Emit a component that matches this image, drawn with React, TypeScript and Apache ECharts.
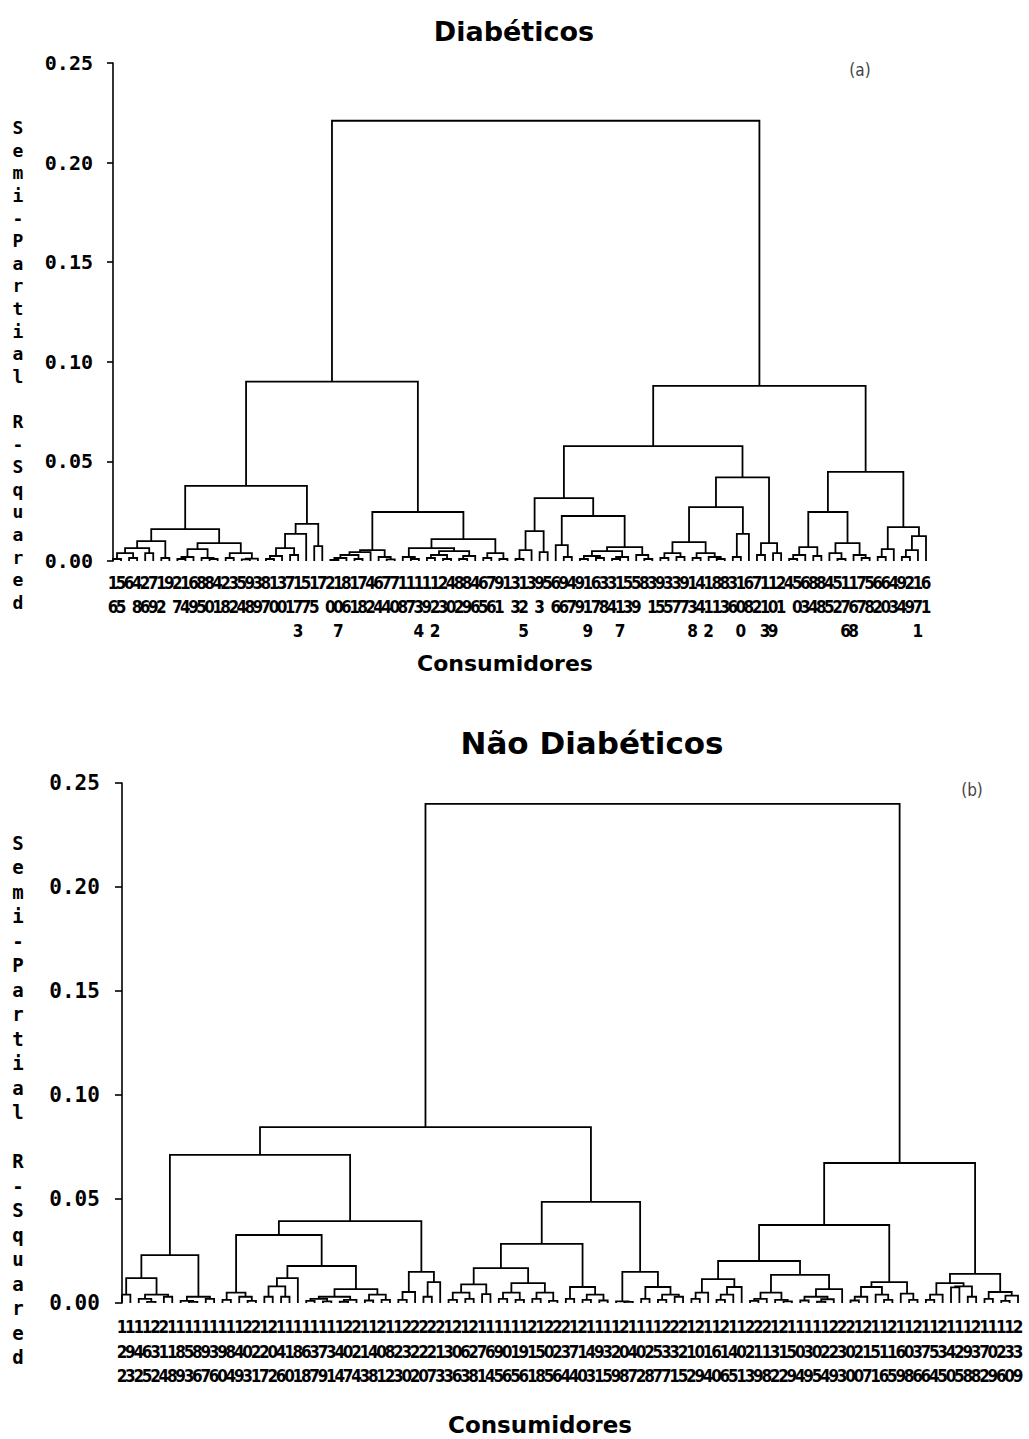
import React, { useEffect, useRef } from "react";
import * as echarts from "echarts";

type Node = null | [number, Node, Node];
const L = null;

// ---------- Panel (a): Diabéticos — merge heights (semi-partial R²) ----------
const a_A1aL: Node = [0.010, [0.0065, [0.004, [0.001, L, L], [0.0015, L, L]], [0.004, L, L]], [0.0015, L, L]];
const a_A1aR: Node = [0.009, [0.006, [0.002, [0.001, L, L], L], [0.0015, L, [0.001, L, L]]], [0.004, [0.0015, L, L], [0.0012, [0.0008, L, L], L]]];
const a_A1b: Node = [0.0186, [0.0136, [0.0065, [0.0025, [0.001, L, L], L], [0.003, L, L]], L], [0.0075, L, L]];
const a_A2a: Node = [0.0055, [0.0045, [0.003, [0.0015, [0.0005, L, L], L], [0.001, L, L]], L], [0.002, L, [0.0008, L, L]]];
const a_A2b: Node = [0.011, [0.0065, [0.002, L, [0.001, L, L]], [0.005, [0.003, [0.0015, L, L], [0.001, L, L]], [0.0025, [0.001, L, L], L]]], [0.004, [0.0015, L, L], [0.001, L, L]]];
const a_B1a: Node = [0.0316, [0.015, [0.0055, [0.001, L, L], L], [0.0045, L, L]], [0.0226, [0.008, L, [0.002, L, L]], [0.007, [0.005, [0.0025, [0.001, L, L], [0.0015, L, L]], [0.002, [0.001, L, L], L]], [0.003, L, [0.001, L, L]]]]];
const a_B1b: Node = [0.042, [0.027, [0.0095, [0.004, [0.0015, L, L], [0.002, L, L]], [0.004, [0.0015, L, L], [0.002, L, [0.001, L, L]]]], [0.0136, [0.002, L, L], L]], [0.009, [0.003, L, L], [0.004, L, L]]];
const a_B2: Node = [0.0447, [0.0246, [0.007, [0.003, [0.001, L, L], L], [0.0025, L, L]], [0.009, [0.004, L, [0.001, L, L]], [0.003, L, [0.0015, L, L]]]], [0.017, [0.006, [0.002, L, L], L], [0.0125, [0.0055, [0.002, L, L], L], L]]];
const treeA: Node = [0.221, [0.090, [0.0377, [0.016, a_A1aL, a_A1aR], a_A1b], [0.0246, a_A2a, a_A2b]], [0.0879, [0.0577, a_B1a, a_B1b], a_B2]];

const labelsA = [
  "16","55","6","48","26","79","12","9","27","14",
  "69","85","80","41","28","32","54","98","39","87",
  "10","30","71","173","57","15","7","20","107","86",
  "11","78","42","64","74","70","18","17","134","19",
  "122","23","40","82","89","46","65","76","91","1",
  "33","125","3","93","5","66","96","47","99","119",
  "67","38","34","117","53","59","8","31","95","35",
  "37","97","138","44","112","81","83","36","100","68",
  "72","113","109","21","4","50","63","84","88","45",
  "52","176","168","77","58","62","60","43","94","29",
  "171","61",
];

// ---------- Panel (b): Não Diabéticos ----------
const b_C1a: Node = [0.023,
  [0.012, [0.004, L, L], [0.004, [0.002, L, [0.0005, L, L]], [0.003, L, L]]],
  [0.003, [0.001, L, [0.0005, L, L]], [0.002, L, L]]];
const b_C1b: Node = [0.0394,
  [0.0327,
    [0.005, [0.0015, L, L], [0.003, L, [0.001, L, L]]],
    [0.0178,
      [0.012, [0.008, [0.003, L, L], [0.003, L, L]], L],
      [0.0067, [0.003, [0.002, [0.001, L, L], [0.0008, L, L]], [0.0015, [0.0006, L, L], L]], [0.004, [0.0012, L, L], [0.0015, L, L]]]]],
  [0.015, [0.0053, [0.0015, L, L], L], [0.010, [0.003, L, L], L]]];
const b_C2: Node = [0.0486,
  [0.0284,
    [0.0168,
      [0.009, [0.005, [0.0015, L, L], [0.002, L, L]], [0.0043, L, L]],
      [0.0096, [0.005, [0.002, L, L], [0.0015, L, L]], [0.005, [0.002, L, L], [0.001, L, L]]]],
    [0.0077, [0.002, L, L], [0.004, [0.0015, L, L], [0.0012, L, L]]]],
  [0.015, [0.0008, L, [0.0005, L, L]], [0.0077, [0.002, L, L], [0.004, [0.0015, L, L], [0.003, L, L]]]]];
const b_D1: Node = [0.0375,
  [0.0202,
    [0.0115, [0.005, [0.002, L, L], L], [0.0077, [0.004, [0.0015, L, L], L], L]],
    [0.0135, [0.005, [0.002, [0.001, L, L], L], [0.0015, L, [0.0008, L, L]]], [0.0067, [0.003, [0.0012, L, L], [0.0018, [0.0006, L, L], L]], L]]],
  [0.010, [0.0077, [0.003, [0.0012, L, L], L], [0.004, L, [0.0015, L, L]]], [0.0045, L, [0.0015, L, L]]]];
const b_D2: Node = [0.014,
  [0.0096, [0.004, [0.0015, L, L], L], [0.008, [0.0075, L, L], [0.003, L, L]]],
  [0.0053, [0.002, L, L], [0.0035, [0.001, L, L], L]]];
const treeB: Node = [0.240, [0.0846, [0.0712, b_C1a, b_C1b], b_C2], [0.0673, b_D1, b_D2]];

const labelsB = [
  "122","193","142","165","232","214","118","189","153","186",
  "197","136","190","184","149","203","221","127","202","146",
  "110","181","168","137","179","131","144","207","224","113",
  "148","201","182","123","230","222","220","227","213","133",
  "206","163","228","171","164","195","106","115","196","211",
  "158","205","226","234","174","210","143","191","135","129",
  "208","147","102","128","157","237","231","225","112","209",
  "114","160","216","145","101","223","219","218","132","212",
  "159","104","139","105","124","229","233","200","120","217",
  "151","116","215","169","108","236","176","154","235","140",
  "125","198","238","172","109","126","130","239",
];

const yTicks = [0, 0.05, 0.1, 0.15, 0.2, 0.25];
const yName = ["S","e","m","i","-","P","a","r","t","i","a","l"," ","R","-","S","q","u","a","r","e","d"];

function layout(tree: Node) {
  const segs: number[][] = [];
  let leaf = 0;
  const walk = (n: Node): [number, number] => {
    if (n === null) {
      const x = leaf++;
      return [x, 0];
    }
    const [h, a, b] = n;
    const A = walk(a);
    const B = walk(b);
    segs.push([A[0], B[0], h, A[1], B[1]]);
    return [(A[0] + B[0]) / 2, h];
  };
  walk(tree);
  return { segs, count: leaf };
}

const NARROW = "'Liberation Sans Narrow','DejaVu Sans Condensed','Arial Narrow',sans-serif";
const MONO = "'DejaVu Sans Mono','Liberation Mono',monospace";
const SANS = "'DejaVu Sans','Verdana',sans-serif";

function buildOption() {
  const la = layout(treeA);
  const lb = layout(treeB);
  const gridFor = (first: number, last: number, n: number, top: number, height: number) => {
    const s = (last - first) / (n - 1);
    return { left: first - s / 2, width: s * n, top, height };
  };
  const renderItem = (_p: any, api: any) => {
    const xl = api.value(0), xr = api.value(1), h = api.value(2), yl = api.value(3), yr = api.value(4);
    const pts = [api.coord([xl, yl]), api.coord([xl, h]), api.coord([xr, h]), api.coord([xr, yr])];
    return { type: "polyline", shape: { points: pts }, style: { stroke: "#000", lineWidth: 1.8, fill: null } };
  };
  const catAxis = (gi: number, data: string[], fontSize: number, lineHeight: number, margin: number) => ({
    type: "category",
    gridIndex: gi,
    data,
    axisLine: { show: false },
    axisTick: { show: false },
    axisLabel: {
      interval: 0,
      margin,
      color: "#000",
      fontFamily: NARROW,
      fontWeight: "bold",
      fontSize,
      lineHeight,
      formatter: (v: string) => v.split("").join("\n"),
    },
  });
  const yAx = (gi: number, fontSize: number, margin: number, tick: number) => ({
    type: "value",
    gridIndex: gi,
    min: yTicks[0],
    max: yTicks[yTicks.length - 1],
    interval: 0.05,
    axisLine: { show: true, lineStyle: { color: "#000", width: 1.6 } },
    axisTick: { show: true, length: tick, lineStyle: { color: "#000", width: 1.6 } },
    splitLine: { show: false },
    axisLabel: {
      margin,
      color: "#000",
      fontFamily: MONO,
      fontWeight: "bold",
      fontSize,
      formatter: (v: number) => v.toFixed(2),
    },
  });
  const txt = (text: string, x: number, y: number, font: string, fill = "#000", lineHeight?: number) => ({
    type: "text",
    x,
    y,
    silent: true,
    style: { text, font, fill, align: "center", verticalAlign: "middle", lineHeight },
  });
  return {
    animation: false,
    backgroundColor: "#fff",
    grid: [gridFor(113, 926, la.count, 63, 498), gridFor(122, 1018, lb.count, 783, 520)],
    xAxis: [
      catAxis(0, labelsA, 17, 24, 10),
      { type: "value", gridIndex: 0, min: -0.5, max: la.count - 0.5, show: false },
      catAxis(1, labelsB, 17, 24.5, 12),
      { type: "value", gridIndex: 1, min: -0.5, max: lb.count - 0.5, show: false },
    ],
    yAxis: [yAx(0, 20, 16, 6), yAx(1, 21, 18, 7)],
    series: [
      { type: "custom", xAxisIndex: 1, yAxisIndex: 0, data: la.segs, renderItem, encode: { x: [0, 1], y: [2, 3, 4] }, silent: true },
      { type: "custom", xAxisIndex: 3, yAxisIndex: 1, data: lb.segs, renderItem, encode: { x: [0, 1], y: [2, 3, 4] }, silent: true },
    ],
    graphic: [
      txt("Diabéticos", 514, 31, `bold 27px ${SANS}`),
      txt("(a)", 860, 70, `17px ${NARROW}`, "#444"),
      txt("Consumidores", 505, 663, `bold 22px ${SANS}`),
      txt(yName.join("\n"), 18, 365, `bold 18px ${MONO}`, "#000", 22.6),
      txt("Não Diabéticos", 592, 743, `bold 31px ${SANS}`),
      txt("(b)", 972, 790, `17px ${NARROW}`, "#444"),
      txt("Consumidores", 540, 1425, `bold 23px ${SANS}`),
      txt(yName.join("\n"), 18, 1100, `bold 19px ${MONO}`, "#000", 24.5),
    ],
  };
}

export default function App() {
  const ref = useRef<HTMLDivElement>(null);
  useEffect(() => {
    if (!ref.current) return;
    const chart = echarts.init(ref.current, null, { renderer: "svg" });
    chart.setOption(buildOption() as any);
    return () => chart.dispose();
  }, []);
  return (
    <div
      ref={ref}
      style={{ position: "fixed", left: 0, top: 0, width: 1029, height: 1439, background: "#fff" }}
    />
  );
}
